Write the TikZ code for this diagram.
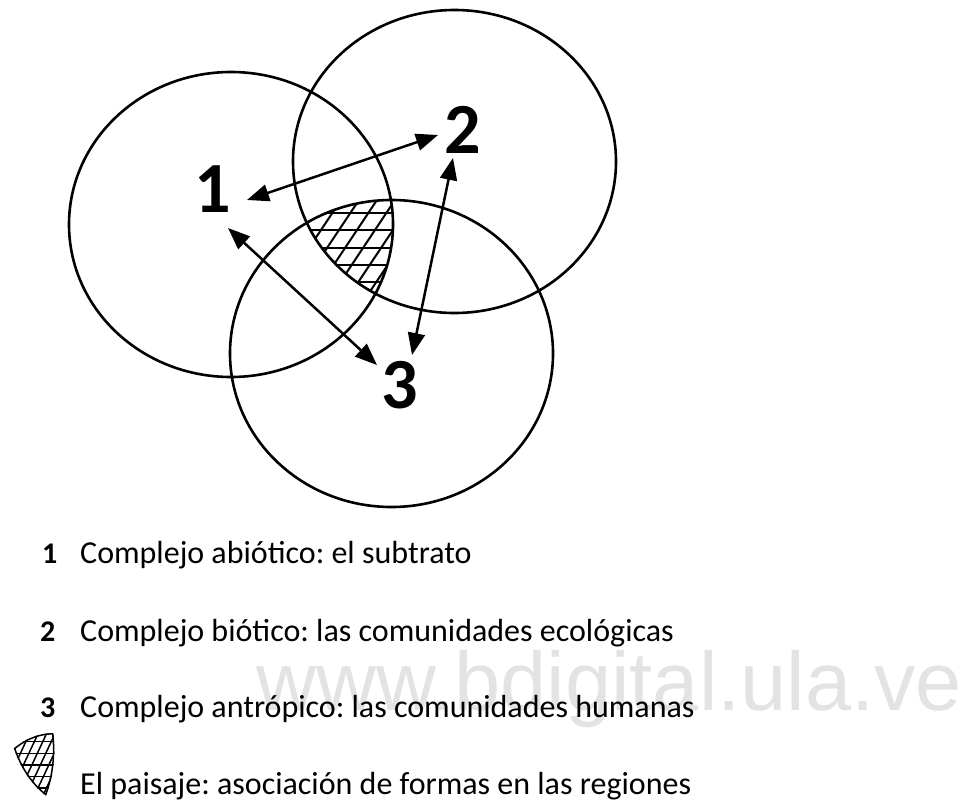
\documentclass[tikz,border=0pt]{standalone}
\usepackage{fontspec}
\setmainfont{Carlito}
\newfontfamily\wmfont{Liberation Sans}
\usetikzlibrary{arrows.meta,calc}
\frenchspacing
\newcommand{\venA}{(231,224.5) ellipse [x radius=162, y radius=152.5]}
\newcommand{\venB}{(454.5,161.5) ellipse [x radius=161.5, y radius=151.5]}
\newcommand{\venC}{(391.5,353.5) ellipse [x radius=161.5, y radius=153.5]}
\tikzset{
  venn/.style={draw=black,line width=2.6pt},
  hatch/.style={draw=black,line width=2pt},
  num/.style={font=\fontsize{72}{72}\selectfont\bfseries,inner sep=0pt},
  legnum/.style={font=\fontsize{30}{32}\selectfont\bfseries,inner sep=0pt},
  legtxt/.style={font=\fontsize{32}{34}\selectfont,inner sep=0pt},
  ar/.style={{Triangle[length=22pt,width=17pt]}-{Triangle[length=22pt,width=17pt]},line width=2.5pt},
}
\begin{document}
\begin{tikzpicture}[x=1pt,y=-1pt]
\useasboundingbox (0,0) rectangle (963,803);
% watermark
\node[anchor=base west,inner sep=0pt,text=black!11,font=\wmfont\fontsize{83}{83}\selectfont] (wm) at (256,710) {www.bdigital.ula.ve};
% hatched core
\begin{scope}
  \clip \venA; \clip \venB; \clip \venC;
  \foreach \y in {195.75,213,...,300} \draw[hatch] (280,\y) -- (420,\y);
  \foreach \x in {200.3,218.3,...,400} \draw[hatch] (\x,330) -- (\x+100,180);
\end{scope}
\draw[venn] \venA;
\draw[venn] \venB;
\draw[venn] \venC;
\node[num] (n1) at (213,189) {1};
\node[num] (n2) at (463,130) {2};
\node[num] (n3) at (400,385) {3};
\draw[ar] ($(n1)+(34,11)$) -- ($(n2)+(-25,5)$);
\draw[ar] ($(n1)+(15,39)$) -- ($(n3)+(-23,-20)$);
\draw[ar] ($(n2)+(-10,28)$) -- ($(n3)+(12,-30)$);
% legend
\node[legnum,anchor=base west] (l1) at (42,563) {1};
\node[legtxt,anchor=base west] (t1) at (80,563) {Complejo abiótico: el subtrato};
\node[legnum,anchor=base west] (l2) at (40,641) {2};
\node[legtxt,anchor=base west] (t2) at (80,641) {Complejo biótico: las comunidades ecológicas};
\node[legnum,anchor=base west] (l3) at (40,717) {3};
\node[legtxt,anchor=base west] (t3) at (80,717) {Complejo antrópico: las comunidades humanas};
\node[legtxt,anchor=base west] (t4) at (80,794) {El paisaje: asociación de formas en las regiones};
\begin{scope}[shift={(13,733)},xscale=0.47,yscale=0.67,shift={(-305,-200)}]
  \clip \venA; \clip \venB; \clip \venC;
  \foreach \y in {195.75,213,...,300} \draw[hatch,line width=1.5pt] (280,\y) -- (420,\y);
  \foreach \x in {200.3,218.3,...,400} \draw[hatch,line width=1.5pt] (\x,330) -- (\x+100,180);
  \draw[line width=3pt] \venA \venB \venC;
\end{scope}
\end{tikzpicture}
\end{document}
